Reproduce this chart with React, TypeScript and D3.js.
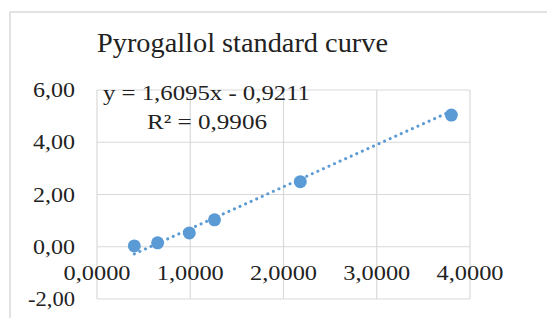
import * as d3 from "d3";
import { useEffect, useRef } from "react";

const title = "Pyrogallol standard curve";
const xValues = [0.4, 0.65, 0.99, 1.26, 2.18, 3.8];
const yValues = [0.03, 0.15, 0.53, 1.03, 2.49, 5.04];
const xTicks = [0, 1, 2, 3, 4];
const yTicks = [-2, 0, 2, 4, 6];
const slope = 1.6095;
const intercept = -0.9211;
const equationLabel = "y = 1,6095x - 0,9211";
const r2Label = "R² = 0,9906";

const W = 547;
const H = 318;
const font = "'Liberation Serif', serif";

export default function App() {
  const ref = useRef<SVGSVGElement>(null);

  useEffect(() => {
    const svg = d3.select(ref.current);
    svg.selectAll("*").remove();

    const x = d3.scaleLinear().domain([0, 4]).range([97, 470]);
    const y = d3.scaleLinear().domain([-2, 6]).range([299, 90]);

    // chart frame (cropped on right and bottom)
    svg.append("rect")
      .attr("x", 10).attr("y", 12)
      .attr("width", W + 20).attr("height", H + 20)
      .attr("fill", "white")
      .attr("stroke", "#d9d9d9").attr("stroke-width", 1.5);

    svg.append("text")
      .attr("x", 97).attr("y", 52)
      .attr("font-family", font).attr("font-size", 27)
      .attr("textLength", 291).attr("lengthAdjust", "spacingAndGlyphs")
      .attr("fill", "#222")
      .text(title);

    const grid = svg.append("g").attr("stroke", "#d9d9d9").attr("stroke-width", 1.2);
    grid.selectAll("line.h").data(yTicks).enter().append("line")
      .attr("x1", x(0)).attr("x2", x(4))
      .attr("y1", d => y(d)).attr("y2", d => y(d));
    grid.selectAll("line.v").data(xTicks).enter().append("line")
      .attr("x1", d => x(d)).attr("x2", d => x(d))
      .attr("y1", y(6)).attr("y2", y(-2));

    const fmtY = (d: number) => d3.format(".2f")(d).replace(".", ",").replace("−", "-");
    const fmtX = (d: number) => d3.format(".4f")(d).replace(".", ",");

    svg.append("g").selectAll("text").data(yTicks).enter().append("text")
      .attr("x", 75).attr("y", d => y(d) + 7)
      .attr("text-anchor", "end")
      .attr("font-family", font).attr("font-size", 22)
      .attr("textLength", d => d < 0 ? 47 : 42).attr("lengthAdjust", "spacingAndGlyphs")
      .attr("fill", "#222")
      .text(d => fmtY(d));

    svg.append("g").selectAll("text").data(xTicks).enter().append("text")
      .attr("x", d => x(d)).attr("y", y(0) + 33)
      .attr("text-anchor", "middle")
      .attr("font-family", font).attr("font-size", 22)
      .attr("textLength", 67).attr("lengthAdjust", "spacingAndGlyphs")
      .attr("fill", "#222")
      .text(d => fmtX(d));

    // trendline
    const x0 = d3.min(xValues)!, x1 = d3.max(xValues)!;
    svg.append("line")
      .attr("x1", x(x0)).attr("y1", y(slope * x0 + intercept))
      .attr("x2", x(x1)).attr("y2", y(slope * x1 + intercept))
      .attr("stroke", "#5b9bd5").attr("stroke-width", 3)
      .attr("stroke-dasharray", "0.1 6").attr("stroke-linecap", "round");

    svg.append("g").selectAll("circle").data(xValues).enter().append("circle")
      .attr("cx", d => x(d)).attr("cy", (d, i) => y(yValues[i]))
      .attr("r", 6.5)
      .attr("fill", "#5b9bd5");

    svg.append("text")
      .attr("x", 103).attr("y", 100)
      .attr("font-family", font).attr("font-size", 22)
      .attr("textLength", 207).attr("lengthAdjust", "spacingAndGlyphs")
      .attr("fill", "#222")
      .text(equationLabel);
    svg.append("text")
      .attr("x", 147).attr("y", 129)
      .attr("font-family", font).attr("font-size", 22)
      .attr("textLength", 120).attr("lengthAdjust", "spacingAndGlyphs")
      .attr("fill", "#222")
      .text(r2Label);
  }, []);

  return (
    <svg ref={ref} width={W} height={H}
      style={{ position: "absolute", left: 0, top: 0, background: "white" }} />
  );
}
